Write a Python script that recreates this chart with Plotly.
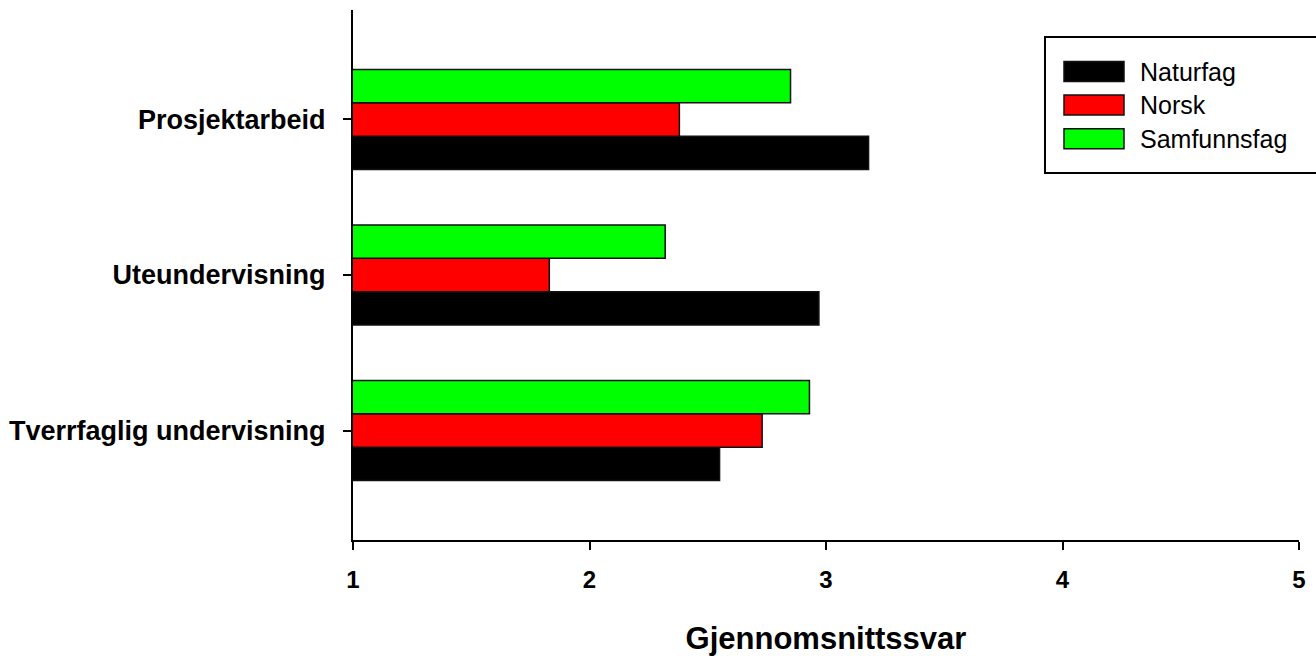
import plotly.graph_objects as go

categories = ["Tverrfaglig undervisning", "Uteundervisning", "Prosjektarbeid"]
series_names = ["Naturfag", "Norsk", "Samfunnsfag"]
series_colors = ["#000000", "#ff0000", "#00ff00"]
naturfag = [2.55, 2.97, 3.18]
norsk = [2.73, 1.83, 2.38]
samfunnsfag = [2.93, 2.32, 2.85]
series_values = [naturfag, norsk, samfunnsfag]
x_ticks = [1, 2, 3, 4, 5]
x_title = "Gjennomsnittssvar"

W, H = 1316, 656
L, R, T, B = 353, 17, 10, 116
PW, PH = W - L - R, H - T - B

def px(x):
    return (x - L) / PW

def py(y):
    return (H - B - y) / PH

FONT = "Liberation Sans, Arial, sans-serif"

fig = go.Figure()
for name, color, vals in zip(series_names, series_colors, series_values):
    fig.add_trace(go.Bar(
        y=categories, x=vals, name=name, orientation="h",
        marker=dict(color=color, line=dict(color="#111111", width=1.5)),
        showlegend=False,
    ))

fig.update_layout(
    width=W, height=H,
    margin=dict(l=L, r=R, t=T, b=B, pad=0, autoexpand=False),
    paper_bgcolor="white", plot_bgcolor="white",
    barmode="group", bargap=0.357, bargroupgap=0,
    font=dict(family=FONT, color="black"),
)
fig.update_xaxes(
    automargin=False,
    range=[1, 5], tickmode="array", tickvals=x_ticks, ticktext=["<b>%d</b>" % t for t in x_ticks],
    showgrid=False, zeroline=False,
    showline=True, linecolor="black", linewidth=2,
    ticks="outside", ticklen=8, tickwidth=2, tickcolor="black",
    tickfont=dict(size=24, family=FONT, color="black"),
    ticklabelstandoff=9,
    title=dict(text="<b>%s</b>" % x_title, font=dict(size=31, family=FONT, color="black"), standoff=36),
)
fig.update_yaxes(
    automargin=False,
    type="category", categoryorder="array", categoryarray=categories,
    tickvals=categories, ticktext=["<b>%s</b>" % c for c in categories],
    range=[-0.704, 2.704],
    showgrid=False, zeroline=False,
    showline=True, linecolor="black", linewidth=2,
    ticks="outside", ticklen=8, tickwidth=2, tickcolor="black",
    tickfont=dict(size=27, family=FONT, color="black"),
    ticklabelstandoff=12,
)

# custom legend box
shapes = [dict(type="rect", xref="paper", yref="paper",
               x0=px(1045), x1=px(1318), y0=py(173), y1=py(37),
               line=dict(color="black", width=2), fillcolor="white", layer="above")]
annotations = []
row_centers = [71.5, 105, 138.7]
for name, color, yc in zip(series_names, series_colors, row_centers):
    shapes.append(dict(type="rect", xref="paper", yref="paper",
                       x0=px(1064), x1=px(1124), y0=py(yc + 10), y1=py(yc - 10),
                       line=dict(color="#111111", width=1.5), fillcolor=color, layer="above"))
    annotations.append(dict(xref="paper", yref="paper", x=px(1138), y=py(yc),
                            xanchor="left", yanchor="middle", showarrow=False,
                            text=name, font=dict(size=25, family=FONT, color="black")))
fig.update_layout(shapes=shapes, annotations=annotations)

fig.write_html("out.html", config={"displayModeBar": False},
               post_script="document.body.style.margin='0';document.body.style.padding='0';")
